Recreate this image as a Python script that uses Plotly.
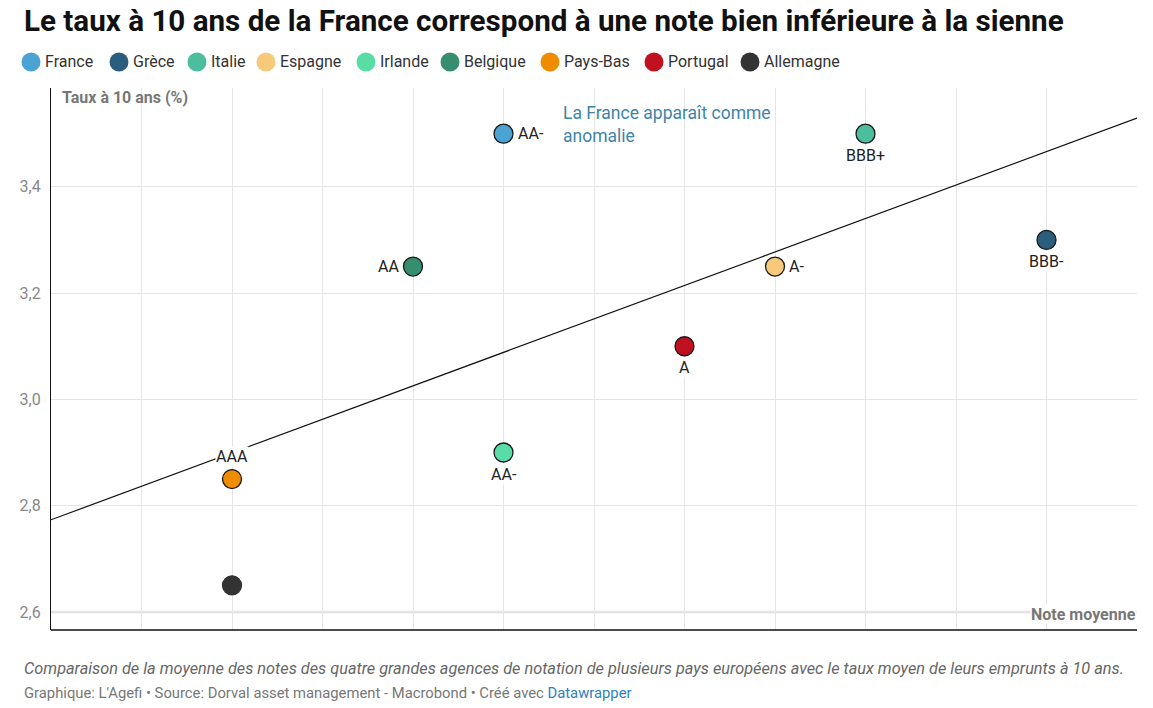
import numpy as np
import plotly.graph_objects as go

pays = ["France", "Grèce", "Italie", "Espagne", "Irlande", "Belgique", "Pays-Bas", "Portugal", "Allemagne"]
note_moyenne = [5, 11, 9, 8, 5, 4, 2, 7, 2]
taux_10_ans = [3.5, 3.3, 3.5, 3.25, 2.9, 3.25, 2.85, 3.1, 2.65]
notes = ["AA-", "BBB-", "BBB+", "A-", "AA-", "AA", "AAA", "A", ""]
couleurs = ["#4aa3d3", "#2b5d7d", "#4cbd9d", "#f7c97a", "#58dda6", "#378e6e", "#ef8c00", "#bf111f", "#333333"]
contours = ["#1a1a1a"] * 8 + ["#333333"]
positions = ["right", "bottom", "bottom", "right", "bottom", "left", "top", "bottom", "none"]

# la page ajoute ~8 px de marge autour de la figure
O = 8
W, H = 1153, 708
x_gauche, x_droite, y_haut, y_bas = 51, 1137, 88, 630   # zone de tracé, pixels écran
L, T = x_gauche - O, y_haut - O
R, B = W - (x_droite - O), H - (y_bas - O)
pw, ph = W - L - R, H - T - B

# position des entrées de légende (pixels écran)
legende_x = [31, 119, 197, 266, 366, 450, 550, 654, 750]


def px(p):
    return (p - x_gauche) / pw


def py(p):
    return (y_bas - p) / ph


fig = go.Figure()

# droite de régression
pente, origine = np.polyfit(note_moyenne, taux_10_ans, 1)
xs = np.array([0, 12])
fig.add_trace(go.Scatter(x=xs, y=origine + pente * xs, mode="lines",
                         line=dict(color="#111111", width=1.2),
                         showlegend=False, hoverinfo="skip"))

for i in range(len(pays)):
    fig.add_trace(go.Scatter(
        x=[note_moyenne[i]], y=[taux_10_ans[i]],
        mode="markers", name=pays[i], showlegend=False,
        marker=dict(size=19, color=couleurs[i], line=dict(color=contours[i], width=1.3))))

    # légende manuelle
    fig.add_shape(type="circle", xref="paper", yref="paper",
                  xsizemode="pixel", ysizemode="pixel",
                  xanchor=px(legende_x[i]), yanchor=py(62),
                  x0=-9.5, x1=9.5, y0=-9.5, y1=9.5,
                  fillcolor=couleurs[i], line=dict(width=0))
    fig.add_annotation(xref="paper", yref="paper", x=px(legende_x[i] + 12), y=py(62),
                       xanchor="left", yanchor="middle", showarrow=False,
                       text=pays[i], font=dict(size=16, color="#333333"))

    pos = positions[i]
    if pos == "none":
        continue
    ann = dict(x=note_moyenne[i], y=taux_10_ans[i], text=notes[i], showarrow=False,
               font=dict(size=16, color="#222222"), bgcolor="white", borderpad=0)
    if pos == "right":
        ann.update(xanchor="left", yanchor="middle", xshift=13)
    elif pos == "left":
        ann.update(xanchor="right", yanchor="middle", xshift=-13)
    elif pos == "top":
        ann.update(xanchor="center", yanchor="bottom", yshift=12)
    else:
        ann.update(xanchor="center", yanchor="top", yshift=-11)
    fig.add_annotation(**ann)

fig.update_layout(
    width=W, height=H,
    margin=dict(l=L, r=R, t=T, b=B, autoexpand=False),
    paper_bgcolor="white", plot_bgcolor="white",
    font=dict(family="Roboto", size=16, color="#333333"),
    separators=", ",
    showlegend=False,
    xaxis=dict(range=[0, 12], dtick=1, tick0=0, showticklabels=False,
               showgrid=True, gridcolor="#e6e6e6", gridwidth=1.3,
               zeroline=False, showline=False, ticks="", automargin=False),
    yaxis=dict(range=[2.566, 3.586], dtick=0.2, tick0=2.6, tickformat=".1f",
               showgrid=True, gridcolor="#e6e6e6", gridwidth=1.3,
               zeroline=False, showline=True, linecolor="#111111", linewidth=1.3,
               ticks="", ticklabelstandoff=6, automargin=False,
               tickfont=dict(size=16, color="#888888")),
)

# ligne de base à 2,6 et axe horizontal
fig.add_shape(type="line", xref="paper", yref="y", x0=0, x1=1, y0=2.6, y1=2.6,
              line=dict(color="#e0e0e0", width=2.5), layer="below")
fig.add_shape(type="line", xref="paper", yref="paper", x0=0, x1=1, y0=0, y1=0,
              line=dict(color="#111111", width=1.3))

textes = [
    dict(text="<b>Le taux à 10 ans de la France correspond à une note bien inférieure à la sienne</b>",
         x=22, y=21, font=dict(size=29.6, color="#111111")),
    dict(text="<b>Taux à 10 ans (%)</b>", x=x_gauche + 9, y=98, font=dict(size=16, color="#777777")),
    dict(text="La France apparaît comme<br>anomalie", x=561, y=124,
         font=dict(size=17.5, color="#3e84a8")),
    dict(text="<i>Comparaison de la moyenne des notes des quatre grandes agences de notation de plusieurs pays européens avec le taux moyen de leurs emprunts à 10 ans.</i>",
         x=22, y=668, font=dict(size=16.3, color="#666666")),
    dict(text="Graphique: L'Agefi • Source: Dorval asset management - Macrobond • Créé avec <span style='color:#2d7fc1'>Datawrapper</span>",
         x=22, y=693, font=dict(size=14.8, color="#777777")),
]
for a in textes:
    fig.add_annotation(xref="paper", yref="paper", x=px(a["x"]), y=py(a["y"]),
                       xanchor="left", yanchor="middle", showarrow=False,
                       text=a["text"], font=a["font"], align="left")

fig.add_annotation(xref="paper", yref="paper", x=1, y=py(614), xanchor="right", yanchor="middle",
                   showarrow=False, text="<b>Note moyenne</b>", font=dict(size=16, color="#777777"),
                   bgcolor="white", borderpad=0)

fig.write_html("out.html")
